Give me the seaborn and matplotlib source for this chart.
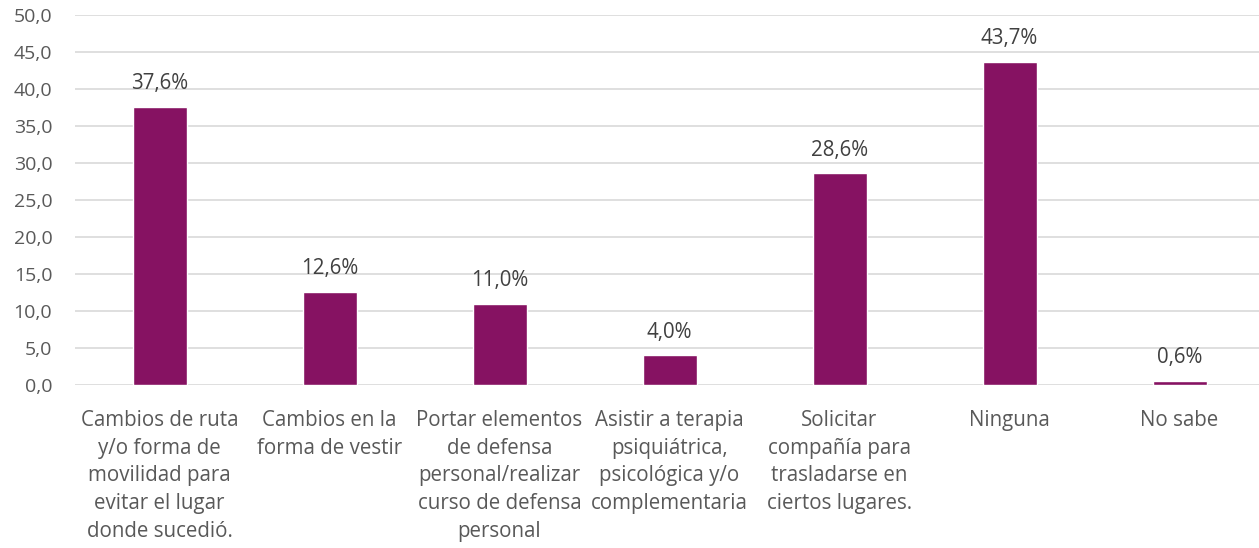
import matplotlib
matplotlib.use("Agg")
import matplotlib.pyplot as plt
import seaborn as sns
import pandas as pd
from matplotlib.ticker import FuncFormatter

categories = [
    "Cambios de ruta\ny/o forma de\nmovilidad para\nevitar el lugar\ndonde sucedió.",
    "Cambios en la\nforma de vestir",
    "Portar elementos\nde defensa\npersonal/realizar\ncurso de defensa\npersonal",
    "Asistir a terapia\npsiquiátrica,\npsicológica y/o\ncomplementaria",
    "Solicitar\ncompañía para\ntrasladarse en\nciertos lugares.",
    "Ninguna",
    "No sabe",
]
values = [37.6, 12.6, 11.0, 4.0, 28.6, 43.7, 0.6]

sns.set_theme(style="white")
plt.rcParams['font.family'] = ['Open Sans', 'DejaVu Sans']

df = pd.DataFrame({"cat": categories, "val": values})

fig = plt.figure(figsize=(12.59, 5.48), dpi=100)
ax = fig.add_axes([0.0592, 0.2974, 0.9452, 0.6752])

bar_color = "#861262"
sns.barplot(data=df, x="cat", y="val", color=bar_color, width=0.318,
            saturation=1, ax=ax, zorder=3)

ax.set_xlim(-0.5, len(categories) - 0.5)
ax.set_ylim(0, 50)
ax.set_yticks([i * 5 for i in range(11)])
ax.yaxis.set_major_formatter(FuncFormatter(lambda v, p: f"{v:.1f}".replace(".", ",")))
ax.grid(axis="y", color="#D9D9D9", linewidth=1.2, zorder=0)
ax.set_axisbelow(True)
for s in ax.spines.values():
    s.set_visible(False)
ax.set_xlabel("")
ax.set_ylabel("")
ax.tick_params(axis="both", length=0, labelcolor="#595959")
ax.tick_params(axis="x", pad=18, labelsize=14.8)
ax.tick_params(axis="y", pad=16, labelsize=14)
for lab in ax.get_xticklabels():
    lab.set_linespacing(1.42)

for i, v in enumerate(values):
    ax.text(i, v + 2.4, f"{v:.1f}%".replace(".", ","), ha="center", va="baseline",
            fontsize=14.8, color="#404040")

fig.savefig("out.png", dpi=100)
